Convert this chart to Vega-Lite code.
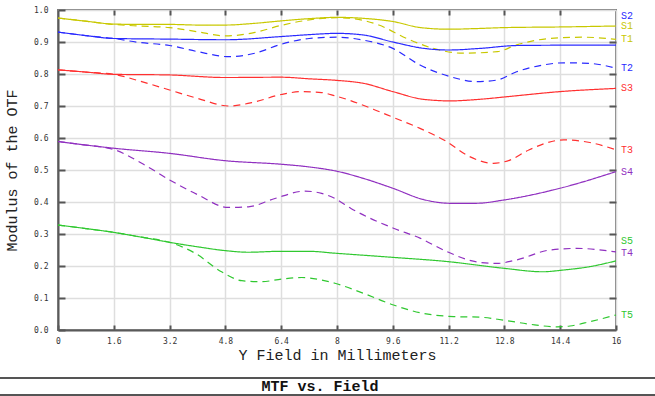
{
  "$schema": "https://vega.github.io/schema/vega-lite/v6.json",
  "width": 558,
  "height": 320,
  "autosize": {"type": "none"},
  "padding": {"left": 58, "top": 10, "right": 39, "bottom": 66},
  "background": "white",
  "config": {
    "view": {"stroke": "#7a7a7a", "strokeWidth": 2},
    "axis": {
      "labelFont": "DejaVu Sans Mono",
      "labelFontSize": 8,
      "labelColor": "#333333",
      "titleFont": "Liberation Mono",
      "titleFontSize": 15,
      "titleFontWeight": "normal",
      "titleColor": "#222222",
      "gridColor": "#dedede",
      "gridWidth": 1.5,
      "domainColor": "#5a5a5a",
      "domainWidth": 2,
      "tickColor": "#555555",
      "tickWidth": 2
    }
  },
  "datasets": {
    "curves": [
      {"s":"S1","g":"1","k":"S","f":0,"v":0.975},{"s":"S1","g":"1","k":"S","f":0.8,"v":0.965},{"s":"S1","g":"1","k":"S","f":1.6,"v":0.956},{"s":"S1","g":"1","k":"S","f":2.4,"v":0.955},{"s":"S1","g":"1","k":"S","f":3.2,"v":0.955},{"s":"S1","g":"1","k":"S","f":4.0,"v":0.953},{"s":"S1","g":"1","k":"S","f":4.8,"v":0.953},{"s":"S1","g":"1","k":"S","f":5.6,"v":0.958},{"s":"S1","g":"1","k":"S","f":6.4,"v":0.966},{"s":"S1","g":"1","k":"S","f":7.2,"v":0.973},{"s":"S1","g":"1","k":"S","f":8,"v":0.977},{"s":"S1","g":"1","k":"S","f":8.75,"v":0.974},{"s":"S1","g":"1","k":"S","f":9.6,"v":0.964},{"s":"S1","g":"1","k":"S","f":10.4,"v":0.945},{"s":"S1","g":"1","k":"S","f":11.2,"v":0.94},{"s":"S1","g":"1","k":"S","f":12,"v":0.942},{"s":"S1","g":"1","k":"S","f":12.8,"v":0.945},{"s":"S1","g":"1","k":"S","f":14.4,"v":0.947},{"s":"S1","g":"1","k":"S","f":16,"v":0.95},
      {"s":"T1","g":"1","k":"T","f":0,"v":0.975},{"s":"T1","g":"1","k":"T","f":0.8,"v":0.965},{"s":"T1","g":"1","k":"T","f":1.6,"v":0.955},{"s":"T1","g":"1","k":"T","f":2.3,"v":0.95},{"s":"T1","g":"1","k":"T","f":3.2,"v":0.945},{"s":"T1","g":"1","k":"T","f":4.0,"v":0.932},{"s":"T1","g":"1","k":"T","f":4.8,"v":0.919},{"s":"T1","g":"1","k":"T","f":5.65,"v":0.93},{"s":"T1","g":"1","k":"T","f":6.4,"v":0.952},{"s":"T1","g":"1","k":"T","f":7.2,"v":0.969},{"s":"T1","g":"1","k":"T","f":8,"v":0.976},{"s":"T1","g":"1","k":"T","f":8.4,"v":0.974},{"s":"T1","g":"1","k":"T","f":9.2,"v":0.953},{"s":"T1","g":"1","k":"T","f":10,"v":0.911},{"s":"T1","g":"1","k":"T","f":10.76,"v":0.88},{"s":"T1","g":"1","k":"T","f":11.6,"v":0.865},{"s":"T1","g":"1","k":"T","f":12.6,"v":0.87},{"s":"T1","g":"1","k":"T","f":13.15,"v":0.891},{"s":"T1","g":"1","k":"T","f":14.1,"v":0.911},{"s":"T1","g":"1","k":"T","f":15.06,"v":0.915},{"s":"T1","g":"1","k":"T","f":16,"v":0.908},
      {"s":"S2","g":"2","k":"S","f":0,"v":0.931},{"s":"S2","g":"2","k":"S","f":0.8,"v":0.92},{"s":"S2","g":"2","k":"S","f":1.6,"v":0.911},{"s":"S2","g":"2","k":"S","f":3.2,"v":0.909},{"s":"S2","g":"2","k":"S","f":4.8,"v":0.907},{"s":"S2","g":"2","k":"S","f":6.4,"v":0.917},{"s":"S2","g":"2","k":"S","f":7.2,"v":0.923},{"s":"S2","g":"2","k":"S","f":8,"v":0.927},{"s":"S2","g":"2","k":"S","f":8.75,"v":0.922},{"s":"S2","g":"2","k":"S","f":9.6,"v":0.9},{"s":"S2","g":"2","k":"S","f":10.5,"v":0.88},{"s":"S2","g":"2","k":"S","f":11.2,"v":0.875},{"s":"S2","g":"2","k":"S","f":12.1,"v":0.88},{"s":"S2","g":"2","k":"S","f":13.15,"v":0.889},{"s":"S2","g":"2","k":"S","f":14.5,"v":0.89},{"s":"S2","g":"2","k":"S","f":16,"v":0.89},
      {"s":"T2","g":"2","k":"T","f":0,"v":0.931},{"s":"T2","g":"2","k":"T","f":0.8,"v":0.92},{"s":"T2","g":"2","k":"T","f":1.6,"v":0.911},{"s":"T2","g":"2","k":"T","f":2.3,"v":0.899},{"s":"T2","g":"2","k":"T","f":3.2,"v":0.889},{"s":"T2","g":"2","k":"T","f":4.0,"v":0.87},{"s":"T2","g":"2","k":"T","f":4.9,"v":0.854},{"s":"T2","g":"2","k":"T","f":5.65,"v":0.865},{"s":"T2","g":"2","k":"T","f":6.4,"v":0.893},{"s":"T2","g":"2","k":"T","f":7.2,"v":0.911},{"s":"T2","g":"2","k":"T","f":8,"v":0.915},{"s":"T2","g":"2","k":"T","f":8.75,"v":0.906},{"s":"T2","g":"2","k":"T","f":9.6,"v":0.88},{"s":"T2","g":"2","k":"T","f":10.38,"v":0.828},{"s":"T2","g":"2","k":"T","f":11.24,"v":0.792},{"s":"T2","g":"2","k":"T","f":12,"v":0.776},{"s":"T2","g":"2","k":"T","f":12.58,"v":0.781},{"s":"T2","g":"2","k":"T","f":13.15,"v":0.807},{"s":"T2","g":"2","k":"T","f":13.9,"v":0.828},{"s":"T2","g":"2","k":"T","f":14.5,"v":0.835},{"s":"T2","g":"2","k":"T","f":15.25,"v":0.833},{"s":"T2","g":"2","k":"T","f":16,"v":0.818},
      {"s":"S3","g":"3","k":"S","f":0,"v":0.813},{"s":"S3","g":"3","k":"S","f":0.8,"v":0.806},{"s":"S3","g":"3","k":"S","f":1.6,"v":0.799},{"s":"S3","g":"3","k":"S","f":3.2,"v":0.797},{"s":"S3","g":"3","k":"S","f":4.8,"v":0.789},{"s":"S3","g":"3","k":"S","f":6.4,"v":0.79},{"s":"S3","g":"3","k":"S","f":7.2,"v":0.785},{"s":"S3","g":"3","k":"S","f":8,"v":0.78},{"s":"S3","g":"3","k":"S","f":8.75,"v":0.771},{"s":"S3","g":"3","k":"S","f":9.6,"v":0.745},{"s":"S3","g":"3","k":"S","f":10.47,"v":0.721},{"s":"S3","g":"3","k":"S","f":11.24,"v":0.716},{"s":"S3","g":"3","k":"S","f":12.1,"v":0.721},{"s":"S3","g":"3","k":"S","f":12.87,"v":0.729},{"s":"S3","g":"3","k":"S","f":14.4,"v":0.745},{"s":"S3","g":"3","k":"S","f":16,"v":0.755},
      {"s":"T3","g":"3","k":"T","f":0,"v":0.813},{"s":"T3","g":"3","k":"T","f":0.8,"v":0.806},{"s":"T3","g":"3","k":"T","f":1.6,"v":0.799},{"s":"T3","g":"3","k":"T","f":2.4,"v":0.776},{"s":"T3","g":"3","k":"T","f":3.2,"v":0.75},{"s":"T3","g":"3","k":"T","f":4,"v":0.724},{"s":"T3","g":"3","k":"T","f":4.9,"v":0.7},{"s":"T3","g":"3","k":"T","f":5.65,"v":0.713},{"s":"T3","g":"3","k":"T","f":6.4,"v":0.736},{"s":"T3","g":"3","k":"T","f":7,"v":0.745},{"s":"T3","g":"3","k":"T","f":7.56,"v":0.742},{"s":"T3","g":"3","k":"T","f":7.94,"v":0.732},{"s":"T3","g":"3","k":"T","f":9.04,"v":0.69},{"s":"T3","g":"3","k":"T","f":9.6,"v":0.665},{"s":"T3","g":"3","k":"T","f":10.38,"v":0.63},{"s":"T3","g":"3","k":"T","f":11.14,"v":0.589},{"s":"T3","g":"3","k":"T","f":11.8,"v":0.542},{"s":"T3","g":"3","k":"T","f":12.48,"v":0.521},{"s":"T3","g":"3","k":"T","f":12.96,"v":0.531},{"s":"T3","g":"3","k":"T","f":13.5,"v":0.5625},{"s":"T3","g":"3","k":"T","f":14.5,"v":0.594},{"s":"T3","g":"3","k":"T","f":15.25,"v":0.586},{"s":"T3","g":"3","k":"T","f":16,"v":0.563},
      {"s":"S4","g":"4","k":"S","f":0,"v":0.589},{"s":"S4","g":"4","k":"S","f":0.8,"v":0.578},{"s":"S4","g":"4","k":"S","f":1.6,"v":0.568},{"s":"S4","g":"4","k":"S","f":3.2,"v":0.552},{"s":"S4","g":"4","k":"S","f":4.8,"v":0.529},{"s":"S4","g":"4","k":"S","f":6.4,"v":0.518},{"s":"S4","g":"4","k":"S","f":7.17,"v":0.51},{"s":"S4","g":"4","k":"S","f":8,"v":0.496},{"s":"S4","g":"4","k":"S","f":8.75,"v":0.474},{"s":"S4","g":"4","k":"S","f":9.6,"v":0.443},{"s":"S4","g":"4","k":"S","f":10.47,"v":0.408},{"s":"S4","g":"4","k":"S","f":11.24,"v":0.396},{"s":"S4","g":"4","k":"S","f":12,"v":0.396},{"s":"S4","g":"4","k":"S","f":12.77,"v":0.406},{"s":"S4","g":"4","k":"S","f":14.5,"v":0.446},{"s":"S4","g":"4","k":"S","f":16,"v":0.495},
      {"s":"T4","g":"4","k":"T","f":0,"v":0.589},{"s":"T4","g":"4","k":"T","f":0.8,"v":0.578},{"s":"T4","g":"4","k":"T","f":1.2,"v":0.573},{"s":"T4","g":"4","k":"T","f":1.6,"v":0.564},{"s":"T4","g":"4","k":"T","f":2.4,"v":0.521},{"s":"T4","g":"4","k":"T","f":3.2,"v":0.469},{"s":"T4","g":"4","k":"T","f":4.02,"v":0.422},{"s":"T4","g":"4","k":"T","f":4.88,"v":0.383},{"s":"T4","g":"4","k":"T","f":5.46,"v":0.385},{"s":"T4","g":"4","k":"T","f":6.22,"v":0.411},{"s":"T4","g":"4","k":"T","f":7.08,"v":0.434},{"s":"T4","g":"4","k":"T","f":7.56,"v":0.427},{"s":"T4","g":"4","k":"T","f":7.94,"v":0.411},{"s":"T4","g":"4","k":"T","f":8.4,"v":0.38},{"s":"T4","g":"4","k":"T","f":9.62,"v":0.318},{"s":"T4","g":"4","k":"T","f":10.38,"v":0.287},{"s":"T4","g":"4","k":"T","f":11.15,"v":0.245},{"s":"T4","g":"4","k":"T","f":12,"v":0.213},{"s":"T4","g":"4","k":"T","f":12.58,"v":0.208},{"s":"T4","g":"4","k":"T","f":13.15,"v":0.219},{"s":"T4","g":"4","k":"T","f":14.1,"v":0.25},{"s":"T4","g":"4","k":"T","f":14.87,"v":0.255},{"s":"T4","g":"4","k":"T","f":16,"v":0.244},
      {"s":"S5","g":"5","k":"S","f":0,"v":0.328},{"s":"S5","g":"5","k":"S","f":0.8,"v":0.317},{"s":"S5","g":"5","k":"S","f":1.6,"v":0.305},{"s":"S5","g":"5","k":"S","f":2.4,"v":0.29},{"s":"S5","g":"5","k":"S","f":3.2,"v":0.274},{"s":"S5","g":"5","k":"S","f":4,"v":0.26},{"s":"S5","g":"5","k":"S","f":4.8,"v":0.248},{"s":"S5","g":"5","k":"S","f":5.46,"v":0.243},{"s":"S5","g":"5","k":"S","f":6.4,"v":0.246},{"s":"S5","g":"5","k":"S","f":7.18,"v":0.246},{"s":"S5","g":"5","k":"S","f":7.94,"v":0.24},{"s":"S5","g":"5","k":"S","f":9.6,"v":0.227},{"s":"S5","g":"5","k":"S","f":11.15,"v":0.214},{"s":"S5","g":"5","k":"S","f":12.77,"v":0.193},{"s":"S5","g":"5","k":"S","f":13.9,"v":0.182},{"s":"S5","g":"5","k":"S","f":14.5,"v":0.1875},{"s":"S5","g":"5","k":"S","f":15.25,"v":0.198},{"s":"S5","g":"5","k":"S","f":16,"v":0.216},
      {"s":"T5","g":"5","k":"T","f":0,"v":0.328},{"s":"T5","g":"5","k":"T","f":0.8,"v":0.317},{"s":"T5","g":"5","k":"T","f":1.6,"v":0.305},{"s":"T5","g":"5","k":"T","f":2.4,"v":0.29},{"s":"T5","g":"5","k":"T","f":3.2,"v":0.274},{"s":"T5","g":"5","k":"T","f":3.93,"v":0.24},{"s":"T5","g":"5","k":"T","f":4.69,"v":0.182},{"s":"T5","g":"5","k":"T","f":5.27,"v":0.154},{"s":"T5","g":"5","k":"T","f":5.84,"v":0.151},{"s":"T5","g":"5","k":"T","f":6.41,"v":0.159},{"s":"T5","g":"5","k":"T","f":6.99,"v":0.164},{"s":"T5","g":"5","k":"T","f":7.56,"v":0.156},{"s":"T5","g":"5","k":"T","f":7.94,"v":0.146},{"s":"T5","g":"5","k":"T","f":8.75,"v":0.115},{"s":"T5","g":"5","k":"T","f":9.62,"v":0.078},{"s":"T5","g":"5","k":"T","f":10.47,"v":0.052},{"s":"T5","g":"5","k":"T","f":11.34,"v":0.042},{"s":"T5","g":"5","k":"T","f":12.1,"v":0.04},{"s":"T5","g":"5","k":"T","f":12.77,"v":0.031},{"s":"T5","g":"5","k":"T","f":13.53,"v":0.018},{"s":"T5","g":"5","k":"T","f":14.3,"v":0.01},{"s":"T5","g":"5","k":"T","f":14.68,"v":0.0125},{"s":"T5","g":"5","k":"T","f":15.25,"v":0.026},{"s":"T5","g":"5","k":"T","f":16,"v":0.047}
    ],
    "labels": [
      {"s":"S2","g":"2","y":0.98},
      {"s":"S1","g":"1","y":0.95},
      {"s":"T1","g":"1","y":0.91},
      {"s":"T2","g":"2","y":0.82},
      {"s":"S3","g":"3","y":0.756},
      {"s":"T3","g":"3","y":0.5625},
      {"s":"S4","g":"4","y":0.494},
      {"s":"S5","g":"5","y":0.277},
      {"s":"T4","g":"4","y":0.24},
      {"s":"T5","g":"5","y":0.047}
    ],
    "caption": [{"title": "MTF vs. Field"}]
  },
  "layer": [
    {
      "data": {"name": "curves"},
      "mark": {"type": "line", "interpolate": "monotone", "strokeWidth": 1.2},
      "encoding": {
        "x": {
          "field": "f", "type": "quantitative",
          "scale": {"domain": [0, 16], "nice": false, "zero": false},
          "axis": {"values": [0, 1.6, 3.2, 4.8, 6.4, 8, 9.6, 11.2, 12.8, 14.4, 16], "format": ".1~f", "title": "Y Field in Millimeters", "tickSize": -5, "labelPadding": 12, "titlePadding": 2, "labelFlush": false, "grid": true}
        },
        "y": {
          "field": "v", "type": "quantitative",
          "scale": {"domain": [0, 1], "nice": false, "zero": false},
          "axis": {"values": [0, 0.1, 0.2, 0.3, 0.4, 0.5, 0.6, 0.7, 0.8, 0.9, 1.0], "format": ".1f", "title": "Modulus of the OTF", "tickSize": -7, "labelPadding": 17, "titlePadding": 14, "labelFlush": false, "grid": true}
        },
        "color": {"field": "g", "type": "nominal", "scale": {"domain": ["1", "2", "3", "4", "5"], "range": ["#c8c800", "#2a2aff", "#ff3030", "#9030c0", "#30c830"]}, "legend": null},
        "strokeDash": {"field": "k", "type": "nominal", "scale": {"domain": ["S", "T"], "range": [[1, 0], [7, 5]]}, "legend": null},
        "detail": {"field": "s"}
      }
    },
    {
      "data": {"name": "curves"},
      "mark": {"type": "point", "opacity": 0},
      "encoding": {
        "x": {
          "field": "f", "type": "quantitative",
          "scale": {"domain": [0, 16], "nice": false, "zero": false},
          "axis": {"orient": "top", "values": [1.6, 3.2, 4.8, 6.4, 8, 9.6, 11.2, 12.8, 14.4], "labels": false, "title": null, "domain": false, "grid": false, "tickSize": -5}
        },
        "y": {
          "field": "v", "type": "quantitative",
          "scale": {"domain": [0, 1], "nice": false, "zero": false},
          "axis": {"orient": "right", "values": [0.1, 0.2, 0.3, 0.4, 0.5, 0.6, 0.7, 0.8, 0.9], "labels": false, "title": null, "domain": false, "grid": false, "tickSize": -7}
        }
      }
    },
    {
      "data": {"name": "labels"},
      "mark": {"type": "text", "align": "left", "baseline": "middle", "dx": 5, "font": "Liberation Mono", "fontSize": 10, "clip": false},
      "encoding": {
        "x": {"datum": 16, "type": "quantitative", "scale": {"domain": [0, 16], "nice": false, "zero": false}, "axis": null},
        "y": {"field": "y", "type": "quantitative", "scale": {"domain": [0, 1], "nice": false, "zero": false}, "axis": null},
        "text": {"field": "s"},
        "color": {"field": "g", "type": "nominal", "legend": null}
      }
    },
    {
      "data": {"name": "caption"},
      "mark": {"type": "rule", "clip": false, "color": "#555555", "strokeWidth": 2},
      "encoding": {
        "x": {"datum": -1.663, "type": "quantitative", "scale": {"domain": [0, 16], "nice": false, "zero": false}, "axis": null},
        "x2": {"datum": 17.12},
        "y": {"datum": -0.15, "type": "quantitative", "scale": {"domain": [0, 1], "nice": false, "zero": false}, "axis": null}
      }
    },
    {
      "data": {"name": "caption"},
      "mark": {"type": "rule", "clip": false, "color": "#555555", "strokeWidth": 2},
      "encoding": {
        "x": {"datum": -1.663, "type": "quantitative", "scale": {"domain": [0, 16], "nice": false, "zero": false}, "axis": null},
        "x2": {"datum": 17.12},
        "y": {"datum": -0.203, "type": "quantitative", "scale": {"domain": [0, 1], "nice": false, "zero": false}, "axis": null}
      }
    },
    {
      "data": {"name": "caption"},
      "mark": {"type": "text", "clip": false, "font": "Liberation Mono", "fontSize": 15, "fontWeight": "bold", "color": "#111111", "align": "center", "baseline": "middle"},
      "encoding": {
        "x": {"datum": 7.513, "type": "quantitative", "scale": {"domain": [0, 16], "nice": false, "zero": false}, "axis": null},
        "y": {"datum": -0.176, "type": "quantitative", "scale": {"domain": [0, 1], "nice": false, "zero": false}, "axis": null},
        "text": {"field": "title"}
      }
    }
  ],
  "resolve": {"axis": {"x": "independent", "y": "independent"}}
}
